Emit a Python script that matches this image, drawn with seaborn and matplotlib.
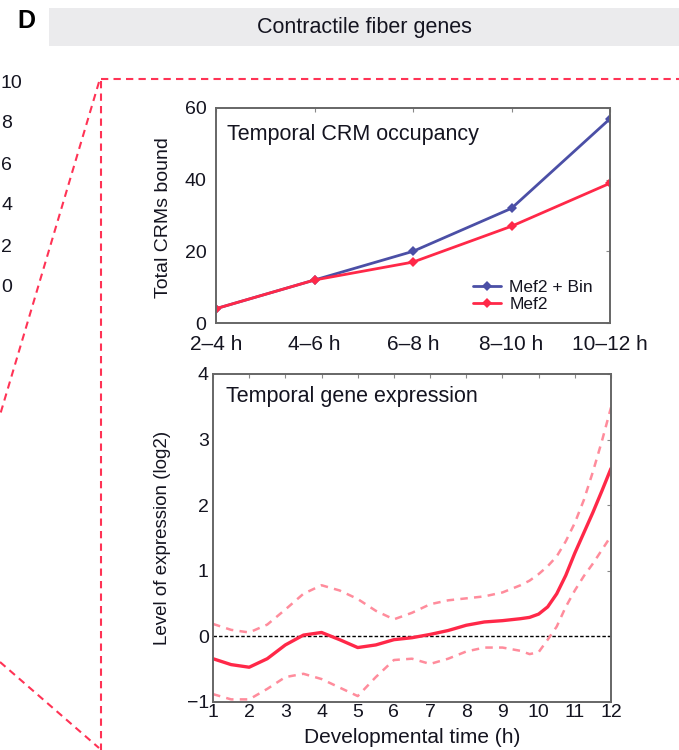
# Contractile fiber genes: temporal CRM occupancy and gene expression (panel D)

import numpy as np
import pandas as pd
import seaborn as sns
from matplotlib import pyplot as plt
from matplotlib.patches import Rectangle

sns.set_theme(style="white")
plt.rcParams['font.family'] = ['Liberation Sans', 'DejaVu Sans']
plt.rcParams['axes.unicode_minus'] = True

# ---- data -------------------------------------------------------------
windows = ["2–4 h", "4–6 h", "6–8 h", "8–10 h", "10–12 h"]
mef2_bin = [4, 12, 20, 32, 57]
mef2 = [4, 12, 17, 27, 39]

hours = [1, 1.5, 2, 2.5, 3, 3.5, 4, 4.5, 5, 5.5, 6, 6.5, 7, 7.5, 8, 8.5,
         9, 9.5, 9.75, 10, 10.25, 10.5, 10.75, 11, 11.25, 11.5, 11.75, 12]
expr_mean = [-0.34, -0.43, -0.47, -0.34, -0.13, 0.02, 0.06, -0.05, -0.17, -0.13,
             -0.05, -0.02, 0.03, 0.09, 0.17, 0.22, 0.24, 0.27, 0.29, 0.34,
             0.45, 0.65, 0.93, 1.27, 1.58, 1.89, 2.22, 2.56]
expr_upper = [0.19, 0.10, 0.06, 0.18, 0.41, 0.65, 0.78, 0.70, 0.57, 0.39,
              0.26, 0.36, 0.49, 0.55, 0.58, 0.61, 0.67, 0.78, 0.85, 0.95,
              1.07, 1.22, 1.45, 1.73, 2.08, 2.51, 2.98, 3.49]
expr_lower = [-0.88, -0.96, -0.96, -0.80, -0.62, -0.57, -0.65, -0.78, -0.91, -0.62,
              -0.36, -0.34, -0.42, -0.34, -0.23, -0.17, -0.17, -0.22, -0.27, -0.24,
              -0.05, 0.15, 0.45, 0.70, 0.92, 1.11, 1.32, 1.53]

left_ticks = ["10", "8", "6", "4", "2", "0"]

BLUE = "#4b4fa6"
RED = "#ff2848"
PINK = "#ff8c9c"
GREY = "#666666"
TXT = "#141420"

occ = pd.DataFrame({
    "pos": list(range(len(windows))) * 2,
    "crms": mef2_bin + mef2,
    "set": ["Mef2 + Bin"] * len(windows) + ["Mef2"] * len(windows),
})
expr = pd.DataFrame({"h": hours, "mean": expr_mean,
                     "upper": expr_upper, "lower": expr_lower})

W, H = 679, 750
fig = plt.figure(figsize=(W / 100, H / 100), dpi=100)

# background layer in pixel coordinates for header and zoom lines
bg = fig.add_axes([0, 0, 1, 1], zorder=0)
bg.set_xlim(0, W)
bg.set_ylim(H, 0)
bg.axis("off")
bg.add_patch(Rectangle((49, 8), W - 49, 38, color="#ebebed", lw=0))
bg.text(364, 28, "Contractile fiber genes", ha="center", va="center",
        fontsize=15.5, color=TXT)
bg.text(17, 21, "D", ha="left", va="center", fontsize=18,
        fontweight="bold", color="black")
for i, t in enumerate(left_ticks):
    bg.text(1, 83 + i * 41, t, ha="left", va="center", fontsize=14, color=TXT)
zoom_kw = dict(color="#ff3355", lw=1.5, ls=(0, (3.5, 2.5)))
bg.plot([101, W], [79, 79], **zoom_kw)
bg.plot([101, 101], [81, H], **zoom_kw)
bg.plot([99, 0], [82, 415], **zoom_kw)
bg.plot([0, 99], [662, 748], **zoom_kw)


def style_axes(ax, xsize, ysize, xpad, ypad):
    for s in ax.spines.values():
        s.set_color(GREY)
        s.set_linewidth(1.4)
    ax.tick_params(direction="in", top=True, right=True, length=3,
                   width=0.8, color="#888888", labelcolor=TXT)
    ax.tick_params(axis="x", labelsize=xsize, pad=xpad)
    ax.tick_params(axis="y", labelsize=ysize, pad=ypad)


# ---- top: CRM occupancy ------------------------------------------------
ax1 = fig.add_axes([216 / W, 1 - 323 / H, 394 / W, 215 / H], zorder=2)
sns.lineplot(data=occ, x="pos", y="crms", hue="set",
             palette={"Mef2 + Bin": BLUE, "Mef2": RED},
             hue_order=["Mef2 + Bin", "Mef2"], marker="D", markersize=5,
             markeredgewidth=0, lw=2, ax=ax1)
ax1.set_xlim(0, len(windows) - 1)
ax1.set_ylim(0, 60)
ax1.set_xticks(range(len(windows)))
ax1.set_xticklabels(windows)
ax1.set_yticks([0, 20, 40, 60])
ax1.set_xlabel("")
ax1.set_ylabel("Total CRMs bound", fontsize=14, color=TXT)
ax1.yaxis.set_label_coords(-0.112, 0.49)
style_axes(ax1, 15, 14, 9, 7)
ax1.text(0.028, 0.879, "Temporal CRM occupancy", transform=ax1.transAxes,
         fontsize=15.5, color=TXT, va="center")
leg = ax1.legend(loc="lower left", bbox_to_anchor=(0.652, 0.05), frameon=False,
                 fontsize=12.5, handlelength=1.6, handletextpad=0.5,
                 labelspacing=0.1, borderpad=0, borderaxespad=0)
for t in leg.get_texts():
    t.set_color(TXT)

# ---- bottom: gene expression -------------------------------------------
ax2 = fig.add_axes([213 / W, 1 - 702 / H, 398 / W, 328 / H], zorder=2)
ax2.axhline(0, color="black", lw=1, ls=(0, (2.5, 1.5)), zorder=1)
sns.lineplot(data=expr, x="h", y="upper", color=PINK, lw=1.8,
             ls=(0, (3, 2.5)), ax=ax2)
sns.lineplot(data=expr, x="h", y="lower", color=PINK, lw=1.8,
             ls=(0, (3, 2.5)), ax=ax2)
sns.lineplot(data=expr, x="h", y="mean", color=RED, lw=2.4, ax=ax2)
ax2.set_xlim(1, 12)
ax2.set_ylim(-1, 4)
ax2.set_xticks(range(1, 13))
ax2.set_yticks(range(-1, 5))
ax2.set_xlabel("Developmental time (h)", fontsize=15, color=TXT)
ax2.xaxis.set_label_coords(0.5, -0.08)
ax2.set_ylabel("Level of expression (log2)", fontsize=13.5, color=TXT)
ax2.yaxis.set_label_coords(-0.105, 0.5)
style_axes(ax2, 14, 14, 1.5, 3)
ax2.text(0.033, 0.93, "Temporal gene expression", transform=ax2.transAxes,
         fontsize=15.5, color=TXT, va="center")

fig.savefig("out.png", dpi=100)
